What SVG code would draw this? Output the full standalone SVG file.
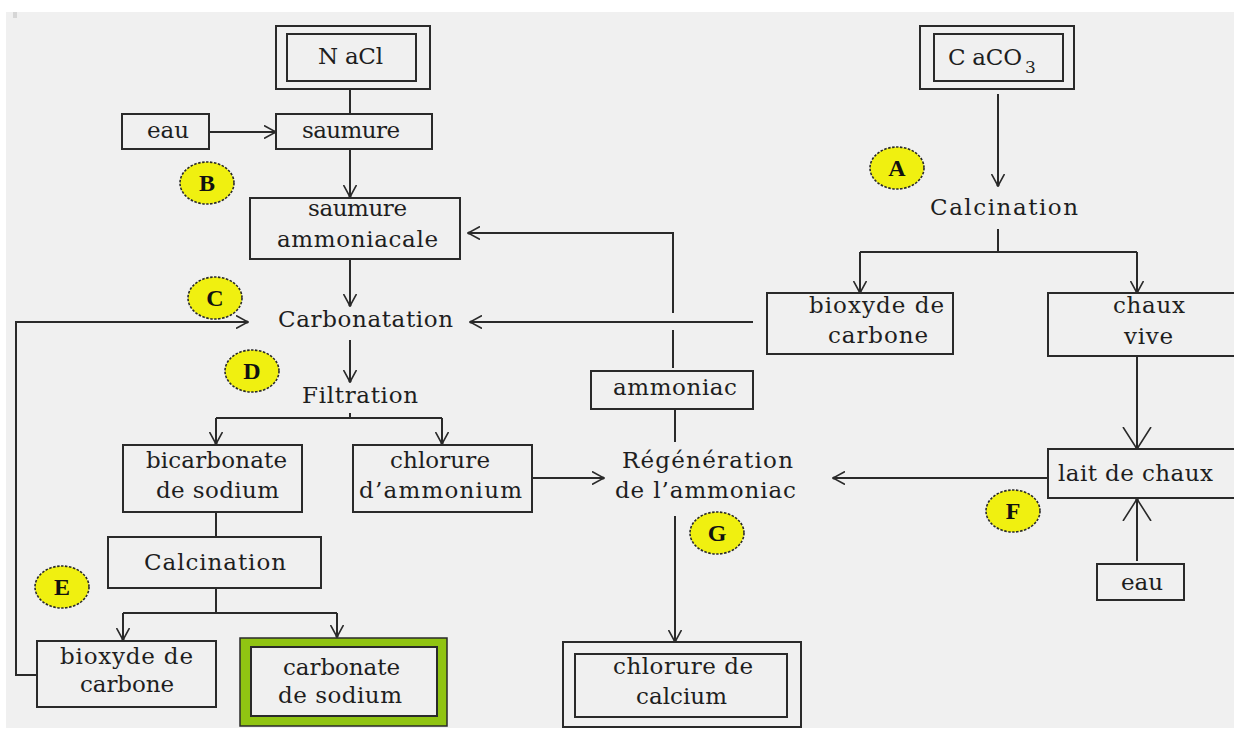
<svg xmlns="http://www.w3.org/2000/svg" width="1234" height="731" viewBox="0 0 1234 731">
<style>
.bx{fill:none;stroke:#2a2a2a;stroke-width:2}
.ln{fill:none;stroke:#2a2a2a;stroke-width:2}
.ar{fill:none;stroke:#2a2a2a;stroke-width:2;marker-end:url(#ah)}
.arb{fill:none;stroke:#2a2a2a;stroke-width:2;marker-end:url(#ahb)}
text{font-family:"DejaVu Serif","Liberation Serif",serif;font-size:23px;fill:#1e1e1e}
.lab ellipse{fill:#f0f010;stroke:#2a2a2a;stroke-width:1.6;stroke-dasharray:2.5 1.5}
.lab text{font-family:"Liberation Serif","DejaVu Serif",serif;font-weight:bold;font-size:24px;text-anchor:middle;fill:#111}
</style>
<defs>
<marker id="ah" viewBox="0 0 13 14" refX="12" refY="7" markerWidth="13" markerHeight="14" markerUnits="userSpaceOnUse" orient="auto">
<path d="M0,0.5 L12,7 L0,13.5" fill="none" stroke="#2a2a2a" stroke-width="1.6"/>
<circle cx="11" cy="7" r="1.6" fill="#2a2a2a"/>
</marker>
<marker id="ahb" viewBox="0 0 23 30" refX="22" refY="15" markerWidth="23" markerHeight="30" markerUnits="userSpaceOnUse" orient="auto">
<path d="M0,1 L22,15 L0,29" fill="none" stroke="#2a2a2a" stroke-width="1.6"/>
<circle cx="21" cy="15" r="1.8" fill="#2a2a2a"/>
</marker>
</defs>
<rect x="0" y="0" width="1234" height="731" fill="#ffffff"/>
<rect x="6" y="12" width="1228" height="716" fill="#f0f0f0"/>
<rect x="13" y="12" width="4" height="6" fill="#d6d6d6"/>

<g id="connectors">
<line class="ln" x1="350" y1="89" x2="350" y2="114"/>
<line class="ar" x1="209" y1="132" x2="276" y2="132"/>
<line class="ar" x1="350" y1="149" x2="350" y2="197"/>
<line class="ar" x1="350" y1="259" x2="350" y2="306"/>
<line class="ar" x1="350" y1="340" x2="350" y2="382"/>
<polyline class="ln" points="350,413 350,418"/>
<line class="ln" x1="216" y1="418" x2="442" y2="418"/>
<line class="ar" x1="216" y1="418" x2="216" y2="444"/>
<line class="ar" x1="442" y1="418" x2="442" y2="444"/>
<line class="ln" x1="216" y1="512" x2="216" y2="537"/>
<line class="ln" x1="216" y1="588" x2="216" y2="613"/>
<line class="ln" x1="123" y1="613" x2="337" y2="613"/>
<line class="ar" x1="123" y1="613" x2="123" y2="640"/>
<line class="ar" x1="337" y1="613" x2="337" y2="637"/>
<polyline class="ar" points="37,675 16,675 16,322 248,322"/>
<line class="ar" x1="753" y1="322" x2="470" y2="322"/>
<line class="ln" x1="673" y1="368" x2="673" y2="330"/>
<polyline class="ar" points="673,313 673,233 468,233"/>
<line class="ln" x1="675" y1="409" x2="675" y2="442"/>
<line class="ar" x1="532" y1="478" x2="604" y2="478"/>
<line class="ar" x1="1047" y1="478" x2="833" y2="478"/>
<line class="ar" x1="675" y1="516" x2="675" y2="642"/>
<line class="ar" x1="998" y1="94" x2="998" y2="186"/>
<line class="ln" x1="998" y1="229" x2="998" y2="252"/>
<line class="ln" x1="860" y1="252" x2="1137" y2="252"/>
<line class="ar" x1="860" y1="252" x2="860" y2="293"/>
<line class="ar" x1="1137" y1="252" x2="1137" y2="293"/>
<line class="arb" x1="1137" y1="356" x2="1137" y2="449"/>
<line class="arb" x1="1137" y1="561" x2="1137" y2="499"/>
</g>

<g id="nacl">
<rect class="bx" x="276" y="26" width="154" height="63"/>
<rect class="bx" x="287" y="34" width="129" height="47"/>
<text x="318" y="64" textLength="65">N aCl</text>
</g>
<g id="eau1">
<rect class="bx" x="122" y="114" width="87" height="35"/>
<text x="147" y="138" textLength="42">eau</text>
</g>
<g id="saumure">
<rect class="bx" x="276" y="114" width="156" height="35"/>
<text x="302" y="138" textLength="98">saumure</text>
</g>
<g id="saumure-ammoniacale">
<rect class="bx" x="250" y="198" width="210" height="61"/>
<text x="308" y="216" textLength="99">saumure</text>
<text x="277" y="247" textLength="161">ammoniacale</text>
</g>
<g id="carbonatation">
<text x="278" y="327" textLength="175">Carbonatation</text>
</g>
<g id="filtration">
<text x="302" y="403" textLength="116">Filtration</text>
</g>
<g id="bicarbonate">
<rect class="bx" x="123" y="445" width="179" height="67"/>
<text x="146" y="468" textLength="141">bicarbonate</text>
<text x="156" y="498" textLength="123">de sodium</text>
</g>
<g id="chlorure-ammonium">
<rect class="bx" x="353" y="445" width="179" height="67"/>
<text x="390" y="468" textLength="100">chlorure</text>
<text x="359" y="498" textLength="163">d’ammonium</text>
</g>
<g id="calcination-left">
<rect class="bx" x="108" y="537" width="213" height="51"/>
<text x="144" y="570" textLength="142">Calcination</text>
</g>
<g id="bioxyde-left">
<rect class="bx" x="37" y="641" width="179" height="66"/>
<text x="60" y="664" textLength="133">bioxyde de</text>
<text x="80" y="692" textLength="94">carbone</text>
</g>
<g id="carbonate-sodium">
<rect x="240" y="638" width="207" height="88" fill="#90c412" stroke="#2a2a2a" stroke-width="1.5"/>
<rect x="251" y="647" width="186" height="69" fill="#f0f0f0" stroke="#2a2a2a" stroke-width="2"/>
<text x="283" y="675" textLength="117">carbonate</text>
<text x="278" y="703" textLength="124">de sodium</text>
</g>
<g id="ammoniac">
<rect class="bx" x="591" y="371" width="162" height="38"/>
<text x="613" y="395" textLength="124">ammoniac</text>
</g>
<g id="regeneration">
<text x="622" y="468" textLength="171">Régénération</text>
<text x="615" y="498" textLength="181">de l’ammoniac</text>
</g>
<g id="chlorure-calcium">
<rect class="bx" x="563" y="642" width="238" height="85"/>
<rect class="bx" x="575" y="654" width="212" height="63"/>
<text x="613" y="674" textLength="140">chlorure de</text>
<text x="636" y="704" textLength="91">calcium</text>
</g>
<g id="caco3">
<rect class="bx" x="920" y="26" width="154" height="63"/>
<rect class="bx" x="934" y="34" width="129" height="47"/>
<text x="948" y="65"><tspan textLength="74">C aCO</tspan><tspan x="1025" y="73" font-size="17">3</tspan></text>
</g>
<g id="calcination-right">
<text x="930" y="215" textLength="148">Calcination</text>
</g>
<g id="bioxyde-right">
<rect class="bx" x="767" y="293" width="186" height="61"/>
<text x="809" y="313" textLength="135">bioxyde de</text>
<text x="828" y="343" textLength="100">carbone</text>
</g>
<g id="chaux-vive">
<rect class="bx" x="1048" y="293" width="200" height="63"/>
<text x="1113" y="313" textLength="72">chaux</text>
<text x="1124" y="344" textLength="49">vive</text>
</g>
<g id="lait-de-chaux">
<rect class="bx" x="1048" y="449" width="200" height="49"/>
<text x="1058" y="481" textLength="155">lait de chaux</text>
</g>
<g id="eau2">
<rect class="bx" x="1097" y="564" width="87" height="36"/>
<text x="1121" y="590" textLength="42">eau</text>
</g>

<g id="label-A" class="lab"><ellipse cx="897" cy="168" rx="27" ry="21"/><text x="897" y="176">A</text></g>
<g id="label-B" class="lab"><ellipse cx="207" cy="183" rx="27" ry="21"/><text x="207" y="191">B</text></g>
<g id="label-C" class="lab"><ellipse cx="215" cy="298" rx="27" ry="21"/><text x="215" y="306">C</text></g>
<g id="label-D" class="lab"><ellipse cx="252" cy="371" rx="27" ry="21"/><text x="252" y="379">D</text></g>
<g id="label-E" class="lab"><ellipse cx="62" cy="587" rx="27" ry="21"/><text x="62" y="595">E</text></g>
<g id="label-F" class="lab"><ellipse cx="1013" cy="511" rx="27" ry="21"/><text x="1013" y="519">F</text></g>
<g id="label-G" class="lab"><ellipse cx="717" cy="533" rx="27" ry="21"/><text x="717" y="541">G</text></g>
</svg>
